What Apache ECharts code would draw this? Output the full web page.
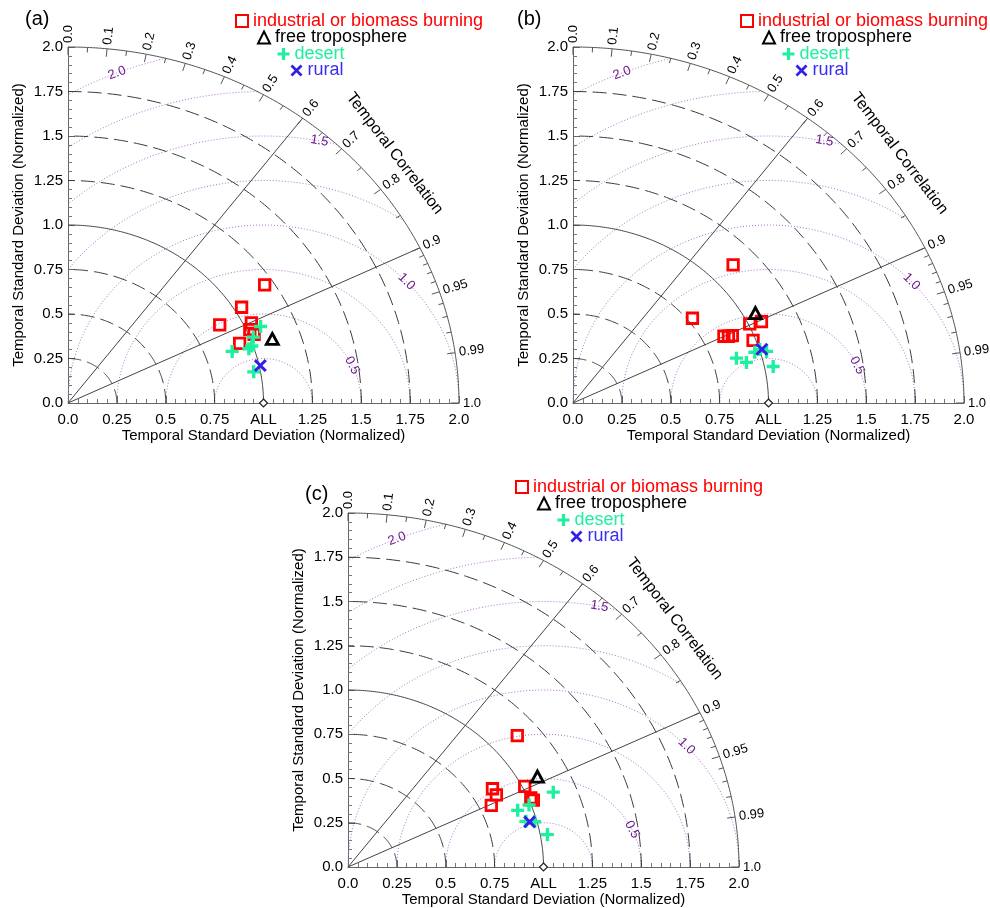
<!DOCTYPE html>
<html><head><meta charset="utf-8">
<script src="https://cdn.jsdelivr.net/npm/echarts@6/dist/echarts.min.js"></script>
<style>html,body{margin:0;padding:0;background:#fff}#c{width:990px;height:908px}</style>
</head><body><div id="c"></div>
<script>
// ---------------- data ----------------
const panelTitles = ['(a)', '(b)', '(c)'];
const categories = ['industrial or biomass burning', 'free troposphere', 'desert', 'rural'];
const xTickLabels = ['0.0', '0.25', '0.5', '0.75', 'ALL', '1.25', '1.5', '1.75', '2.0'];
const yTickLabels = ['0.0', '0.25', '0.5', '0.75', '1.0', '1.25', '1.5', '1.75', '2.0'];
const corrTickValues = [0.0, 0.1, 0.2, 0.3, 0.4, 0.5, 0.6, 0.7, 0.8, 0.9, 0.95, 0.99, 1.0];
const corrTickLabels = ['0.0', '0.1', '0.2', '0.3', '0.4', '0.5', '0.6', '0.7', '0.8', '0.9', '0.95', '0.99', '1.0'];
const corrMinorTicks = [0.05, 0.15, 0.25, 0.35, 0.45, 0.55, 0.65, 0.75, 0.85, 0.91, 0.92, 0.93, 0.94, 0.96, 0.97, 0.98];
const corrLines = [0.6, 0.9];
const stdDevDashedArcs = [0.25, 0.5, 0.75, 1.25, 1.5, 1.75];
const stdDevRefArc = 1.0;
const stdDevMax = 2.0;
const rmsArcs = [0.25, 0.5, 0.75, 1.0, 1.25, 1.5, 1.75, 2.0];
const rmsLabelValues = [0.5, 1.0, 1.5, 2.0];
const rmsLabelTexts = ['0.5', '1.0', '1.5', '2.0'];

// points: [std*corr, std*sin(acos(corr))] in normalized units
const industrialA = [[1.006, 0.664], [0.888, 0.538], [0.776, 0.439], [0.938, 0.45], [0.93, 0.412], [0.952, 0.385], [0.878, 0.335]];
const troposphereA = [[1.045, 0.36]];
const desertA = [[0.985, 0.43], [0.948, 0.37], [0.94, 0.32], [0.925, 0.305], [0.84, 0.29], [0.95, 0.175]];
const ruralA = [[0.984, 0.21]];

const industrialB = [[0.819, 0.776], [0.611, 0.476], [0.772, 0.375], [0.795, 0.375], [0.815, 0.378], [0.904, 0.444], [0.964, 0.457], [0.921, 0.352]];
const troposphereB = [[0.933, 0.505]];
const desertB = [[0.836, 0.252], [0.887, 0.228], [0.93, 0.285], [0.955, 0.30], [0.99, 0.29], [1.024, 0.205]];
const ruralB = [[0.966, 0.302]];

const industrialC = [[0.866, 0.742], [0.739, 0.442], [0.759, 0.408], [0.733, 0.348], [0.904, 0.455], [0.935, 0.39], [0.948, 0.378]];
const troposphereC = [[0.969, 0.511]];
const desertC = [[1.05, 0.423], [0.926, 0.35], [0.868, 0.32], [0.91, 0.258], [0.955, 0.256], [1.02, 0.183]];
const ruralC = [[0.929, 0.255]];

// ---------------- layout / style ----------------
const FONT = '"Liberation Sans", Arial, Helvetica, sans-serif';
const grids = [
  {left: 68, top: 47, width: 391, height: 356},
  {left: 573, top: 47, width: 391, height: 356},
  {left: 348, top: 513, width: 391, height: 356}
];
const titlePos = [[25, 9], [517, 9], [305, 484]];
const legendOrigin = [[0, 0], [505, 0], [280, 466]];
const legendRows = [[252, 21], [274, 37.5], [294.5, 54], [307.5, 70.5]];
const rmsLabelAngles = [25, 43, 79, 112];
const catColors = ['#ff0000', '#000000', '#1ff0a0', '#3320e6'];
const catTextColors = ['#ff0000', '#000000', '#1ff0a0', '#3a2ef0'];
const PLUS = 'path://M3.7,0H6.3V3.7H10V6.3H6.3V10H3.7V6.3H0V3.7H3.7Z';
const CROSS = 'path://M0,1.6L1.6,0L5,3.4L8.4,0L10,1.6L6.6,5L10,8.4L8.4,10L5,6.6L1.6,10L0,8.4L3.4,5Z';
const catSymbols = [
  {symbol: 'rect', symbolSize: 10.5, itemStyle: {color: 'rgba(0,0,0,0)', borderColor: catColors[0], borderWidth: 2.8, opacity: 1}},
  {symbol: 'triangle', symbolSize: [12, 11], itemStyle: {color: 'rgba(0,0,0,0)', borderColor: catColors[1], borderWidth: 2.8, opacity: 1}},
  {symbol: PLUS, symbolSize: 13, itemStyle: {color: catColors[2], opacity: 1}},
  {symbol: CROSS, symbolSize: 13, itemStyle: {color: catColors[3], opacity: 1}}
];
const panelData = [
  [industrialA, troposphereA, desertA, ruralA],
  [industrialB, troposphereB, desertB, ruralB],
  [industrialC, troposphereC, desertC, ruralC]
];

function frameRender(params, api) {
  const s = api.size([1, 1]);
  const sx = s[0], sy = s[1];
  const children = [];
  const arcPts = (cx, r, a0, a1, n) => {
    const pts = [];
    for (let i = 0; i <= n; i++) {
      const a = a0 + (a1 - a0) * i / n;
      pts.push(api.coord([cx + r * Math.cos(a), r * Math.sin(a)]));
    }
    return pts;
  };
  const line = (pts, style) => children.push({type: 'polyline', silent: true, shape: {points: pts}, style: Object.assign({fill: 'none'}, style)});
  // RMS (centred on reference point) dotted arcs
  rmsArcs.forEach(r => {
    const c0 = Math.min(1, (3 - r * r) / (2 * r));
    const c1 = Math.max(-1, -1 / r);
    const a0 = Math.acos(Math.max(-1, c0)), a1 = Math.acos(c1);
    line(arcPts(1, r, a0, a1, 120), {stroke: '#b070c8', lineWidth: 1, lineDash: [1, 2]});
  });
  // dashed std dev arcs
  stdDevDashedArcs.forEach(r => line(arcPts(0, r, 0, Math.PI / 2, 120), {stroke: '#3a3a3a', lineWidth: 1, lineDash: [14, 6]}));
  line(arcPts(0, stdDevRefArc, 0, Math.PI / 2, 150), {stroke: '#444', lineWidth: 1});
  line(arcPts(0, stdDevMax, 0, Math.PI / 2, 200), {stroke: '#555', lineWidth: 1});
  // correlation radial lines
  corrLines.forEach(c => {
    const sn = Math.sqrt(1 - c * c);
    line([api.coord([0, 0]), api.coord([stdDevMax * c, stdDevMax * sn])], {stroke: '#444', lineWidth: 1});
  });
  // ticks and labels on outer arc
  const radial = c => {
    const sn = Math.sqrt(Math.max(0, 1 - c * c));
    const dx = sx * c, dy = -sy * sn;
    const L = Math.hypot(dx, dy);
    return {p: api.coord([stdDevMax * c, stdDevMax * sn]), u: [dx / L, dy / L], ang: Math.atan2(sy * sn, sx * c)};
  };
  const tick = (c, len) => {
    const R = radial(c);
    line([R.p, [R.p[0] - len * R.u[0], R.p[1] - len * R.u[1]]], {stroke: '#555', lineWidth: 1});
  };
  corrMinorTicks.forEach(c => tick(c, 5));
  corrTickValues.forEach((c, i) => {
    tick(c, 8);
    const R = radial(c);
    children.push({type: 'text', silent: true, x: R.p[0] + 4 * R.u[0], y: R.p[1] + 4 * R.u[1], rotation: R.ang,
      style: {text: corrTickLabels[i], fill: '#000', font: '13px ' + FONT, align: 'left', verticalAlign: 'middle'}});
  });
  // Temporal Correlation title
  {
    const R = radial(0.766);
    children.push({type: 'text', silent: true, x: R.p[0] + 34 * R.u[0], y: R.p[1] + 34 * R.u[1], rotation: R.ang - Math.PI / 2,
      style: {text: 'Temporal Correlation', fill: '#000', font: '16px ' + FONT, align: 'center', verticalAlign: 'middle'}});
  }
  // RMS labels
  rmsLabelValues.forEach((r, i) => {
    const phi = rmsLabelAngles[i] * Math.PI / 180;
    const p = api.coord([1 + r * Math.cos(phi), r * Math.sin(phi)]);
    const rot = Math.atan2(-sy * Math.cos(phi), sx * Math.sin(phi));
    children.push({type: 'text', silent: true, x: p[0], y: p[1], rotation: rot,
      style: {text: rmsLabelTexts[i], fill: '#6a1b8a', font: '13px ' + FONT, align: 'center', verticalAlign: 'middle'}});
  });
  // reference diamond
  const d = api.coord([stdDevRefArc, 0]);
  children.push({type: 'polygon', silent: true, shape: {points: [[d[0], d[1] - 4], [d[0] + 4, d[1]], [d[0], d[1] + 4], [d[0] - 4, d[1]]]},
    style: {fill: '#fff', stroke: '#222', lineWidth: 1.2}, z2: 10});
  return {type: 'group', children};
}

const option = {
  animation: false,
  backgroundColor: '#fff',
  title: [], legend: [], grid: [], xAxis: [], yAxis: [], series: []
};

const axisCommon = {
  type: 'value', min: 0, max: 2, interval: 0.25,
  axisLine: {show: true, lineStyle: {color: '#666', width: 1}},
  axisTick: {show: true, inside: true, length: 7, lineStyle: {color: '#666'}},
  minorTick: {show: true, splitNumber: 5, length: 4, lineStyle: {color: '#777'}},
  splitLine: {show: false},
  nameLocation: 'middle',
  nameTextStyle: {fontSize: 15, color: '#000', fontFamily: FONT}
};

panelTitles.forEach((t, i) => {
  option.title.push({text: t, left: titlePos[i][0], top: titlePos[i][1], padding: 0,
    textStyle: {fontSize: 20, fontWeight: 'normal', color: '#000', fontFamily: FONT}});
  option.grid.push(Object.assign({containLabel: false}, grids[i]));
  option.xAxis.push(Object.assign({}, axisCommon, {
    gridIndex: i, name: 'Temporal Standard Deviation (Normalized)', nameGap: 25,
    axisLabel: {fontSize: 15, color: '#000', fontFamily: FONT, margin: 9, formatter: (v, idx) => xTickLabels[idx]}
  }));
  option.yAxis.push(Object.assign({}, axisCommon, {
    gridIndex: i, name: 'Temporal Standard Deviation (Normalized)', nameGap: 42,
    axisLabel: {fontSize: 15, color: '#000', fontFamily: FONT, margin: 5, formatter: (v, idx) => yTickLabels[idx]}
  }));
  option.series.push({
    type: 'custom', xAxisIndex: i, yAxisIndex: i, data: [[0, 0]], renderItem: frameRender,
    clip: false, silent: true, z: 1
  });
  categories.forEach((name, k) => {
    option.series.push(Object.assign({
      type: 'scatter', name: name, xAxisIndex: i, yAxisIndex: i, data: panelData[i][k], z: 5 + k
    }, catSymbols[k]));
    const row = legendRows[k];
    option.legend.push({
      data: [name], selectedMode: false, padding: 0, itemGap: 0,
      itemWidth: 12, itemHeight: 12,
      left: legendOrigin[i][0] + row[0] - 17,
      top: legendOrigin[i][1] + row[1] - 9,
      textStyle: {fontSize: 18, lineHeight: 18, color: catTextColors[k], fontFamily: FONT}
    });
  });
});

const chart = echarts.init(document.getElementById('c'));
chart.setOption(option);
</script>
</body></html>
